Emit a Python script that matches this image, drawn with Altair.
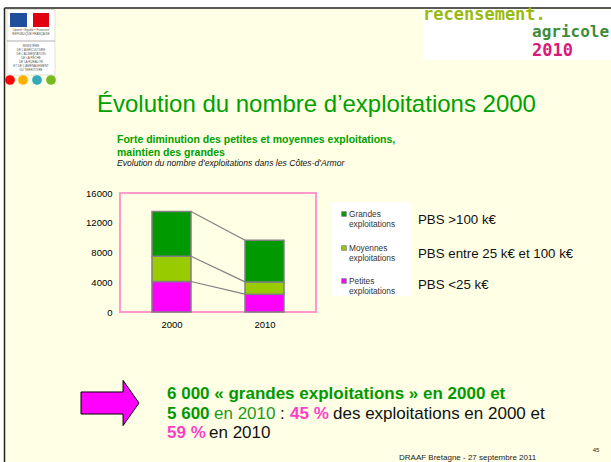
import altair as alt
import pandas as pd

# ---------------- data ----------------
years = [2000, 2010]
categories = ["Petites exploitations", "Moyennes exploitations", "Grandes exploitations"]
petites = [4100, 2400]
moyennes = [3400, 1650]
grandes = [6000, 5600]
bar_colors = ["#FF00FF", "#99CC00", "#009900"]
y_ticks = [0, 4000, 8000, 12000, 16000]
legend_first = ["Petites", "Moyennes", "Grandes"]
pbs_labels = ["PBS <25 k\u20ac", "PBS entre 25 k\u20ac et 100 k\u20ac", "PBS >100 k\u20ac"]

series = [petites, moyennes, grandes]
rows = []
for k, (cat, vals) in enumerate(zip(categories, series)):
    for yr, v in zip(years, vals):
        rows.append({"year": yr, "cat": cat, "value": v, "ord": k})
df = pd.DataFrame(rows)

cum0, cum1, rrows = 0, 0, []
for vals in series:
    cum0 += vals[0]
    cum1 += vals[1]
    rrows.append({"x0": years[0], "x1": years[1], "c0": cum0, "c1": cum1})
rdf = pd.DataFrame(rrows)

# ---------------- layout helpers ----------------
OX, OY = 120, 193          # plot-area origin on the page
PW, PH = 196, 119          # plot-area size
W, H = 611, 462
FONT = "Liberation Sans"
CREAM = "#FFFFE6"
GREEN = "#00A000"
PINK = "#FF3EC8"

one = pd.DataFrame({"t": [""]})


def txt(s, x, y, size, color="black", weight="normal", style="normal",
        align="left", font=FONT):
    return alt.Chart(pd.DataFrame({"t": [s]})).mark_text(
        align=align, baseline="alphabetic", fontSize=size, fontWeight=weight,
        fontStyle=style, color=color, font=font
    ).encode(x=alt.value(x - OX), y=alt.value(y - OY), text="t:N")


def rect(x1, y1, x2, y2, fill, stroke=None, sw=0):
    kw = dict(fill=fill)
    if stroke:
        kw.update(stroke=stroke, strokeWidth=sw)
    return alt.Chart(one).mark_rect(**kw).encode(
        x=alt.value(x1 - OX), x2=alt.value(x2 - OX),
        y=alt.value(y1 - OY), y2=alt.value(y2 - OY))


def line(x1, y1, x2, y2, color, sw):
    return alt.Chart(one).mark_rule(color=color, strokeWidth=sw).encode(
        x=alt.value(x1 - OX), x2=alt.value(x2 - OX),
        y=alt.value(y1 - OY), y2=alt.value(y2 - OY))


layers = []

# slide frame
layers.append(rect(0, 0, W, 7.5, "white"))
layers.append(rect(0, 0, 4.5, H, "white"))
layers.append(line(4.5, 8, W, 8, "#222222", 1.5))
layers.append(line(4.5, 8, 4.5, H, "#222222", 1.5))

# left logo
layers.append(rect(7, 9.5, 55, 75, "white", "#CCCCCC", 0.6))
layers.append(rect(10, 13, 27, 27, "#1F4E9C"))
layers.append(rect(33, 13, 49, 27, "#E1000F"))
layers.append(txt("Liberté • Égalité • Fraternité", 31, 31, 3, "#555555", align="center"))
layers.append(txt("RÉPUBLIQUE FRANÇAISE", 31, 35, 3, "#555555", align="center"))
layers.append(line(7, 41, 55, 41, "#999999", 0.8))
for i, s in enumerate(["MINISTÈRE", "DE L'AGRICULTURE", "DE L'ALIMENTATION", "DE LA PÊCHE",
                       "DE LA RURALITÉ", "ET DE L'AMÉNAGEMENT", "DU TERRITOIRE"]):
    layers.append(txt(s, 31, 47 + i * 4, 3, "#555555", align="center"))
dots = pd.DataFrame({"x": [10, 23, 37, 51], "c": ["#FF0000", "#FFB000", "#33AABB", "#77BB22"]})
layers.append(alt.Chart(dots).mark_circle(size=95, opacity=1).encode(
    x=alt.X("xp:Q", scale=None), y=alt.value(80 - OY),
    color=alt.Color("c:N", scale=None)).transform_calculate(xp=f"datum.x - {OX}"))

# right logo
layers.append(rect(423, 9.5, W, 60, "white"))
layers.append(txt("recensement.", 423, 20, 17, "#99BB11", weight="bold", font="DejaVu Sans Mono"))
layers.append(txt("agricole", 532, 37, 16, "#3C8C3C", weight="bold", font="DejaVu Sans Mono"))
layers.append(txt("2010", 532, 56, 17, "#D81B7A", weight="bold", font="DejaVu Sans Mono"))

# titles
layers.append(txt("Évolution du nombre d’exploitations 2000", 97, 112, 24, GREEN))
layers.append(txt("Forte diminution des petites et moyennes exploitations,", 117, 143, 10.5, GREEN, weight="bold"))
layers.append(txt("maintien des grandes", 117, 156, 10.5, GREEN, weight="bold"))
layers.append(txt("Evolution du nombre d'exploitations dans les Côtes-d'Armor", 117, 166, 8.6, "#111111", style="italic"))

# chart
axis_common = dict(title=None, ticks=False, domain=False, grid=False, labelFont=FONT,
                   labelFontSize=9.5, labelFontWeight="normal", labelColor="black",
                   labelOverlap=False, zindex=1)
xaxis = alt.Axis(values=years, format="d", labelPadding=7, **axis_common)
yaxis = alt.Axis(values=y_ticks, format="d", labelPadding=8, **axis_common)
xscale = alt.Scale(domain=[1995, 2015], nice=False, zero=False)
yscale = alt.Scale(domain=[0, 16000], nice=False)

bars = alt.Chart(df).mark_bar(size=39, stroke="#808080", strokeWidth=1.5).encode(
    x=alt.X("year:Q", scale=xscale, axis=xaxis),
    y=alt.Y("value:Q", stack="zero", scale=yscale, axis=yaxis),
    color=alt.Color("cat:N", scale=alt.Scale(domain=categories, range=bar_colors), legend=None),
    order=alt.Order("ord:Q", sort="ascending"))
rules = alt.Chart(rdf).mark_rule(color="#808080", strokeWidth=1.2, xOffset=19.5, x2Offset=-19.5).encode(
    x=alt.X("x0:Q", scale=xscale, axis=xaxis), x2="x1:Q",
    y=alt.Y("c0:Q", scale=yscale, axis=yaxis), y2="c1:Q")
layers += [bars, rules]

# manual legend
layers.append(rect(332, 202, 411, 296, "white"))
leg_y = [281, 248, 214]
for cat, col, first, ly, pbs, py in zip(categories, bar_colors, legend_first, leg_y, pbs_labels, [289, 258, 224]):
    layers.append(alt.Chart(one).mark_square(size=22, fill=col, stroke="#808080", strokeWidth=0.8, opacity=1).encode(
        x=alt.value(344 - OX), y=alt.value(ly - OY)))
    layers.append(txt(first, 349, ly + 3, 8.3, "#333333"))
    layers.append(txt("exploitations", 349, ly + 13, 8.3, "#333333"))
    layers.append(txt(pbs, 418, py, 13.3, "#111111"))

# arrow
arrow_path = "M -1 -0.38 L 0.45 -0.38 L 0.45 -0.78 L 1 0 L 0.45 0.78 L 0.45 0.38 L -1 0.38 Z"
layers.append(alt.Chart(one).mark_point(shape=arrow_path, size=3364, filled=True, fill="#FF00FF",
                                        stroke="black", strokeWidth=1, opacity=1).encode(
    x=alt.value(110 - OX), y=alt.value(403 - OY)))

# bottom text
layers.append(txt("6 000 « grandes exploitations » en 2000 et", 167, 399, 17, "#009900", weight="bold"))
layers.append(txt("5 600", 167, 418.5, 17, "#009900", weight="bold"))
layers.append(txt("en 2010", 214, 418.5, 17, "#1A9A1A"))
layers.append(txt(":", 280, 418.5, 17, "#111111"))
layers.append(txt("45 %", 290, 418.5, 17, PINK, weight="bold"))
layers.append(txt("des exploitations en 2000 et", 333, 418.5, 17, "#111111"))
layers.append(txt("59 %", 167, 438, 17, PINK, weight="bold"))
layers.append(txt("en 2010", 209, 438, 17, "#111111"))

# footer
layers.append(txt("DRAAF Bretagne - 27 septembre 2011", 399, 460, 8, "#222222"))
layers.append(txt("45", 596, 452, 6, "#222222", align="center"))

chart = alt.layer(*layers).properties(
    width=PW, height=PH,
    padding={"left": OX, "top": OY, "right": W - OX - PW, "bottom": H - OY - PH},
    autosize=alt.AutoSizeParams(type="none"),
    background=CREAM,
).configure_view(stroke="#FF99CC", strokeWidth=2).configure_axis(labelOverlap=False)

chart.save("out.html", embed_options={"renderer": "svg", "actions": False})
